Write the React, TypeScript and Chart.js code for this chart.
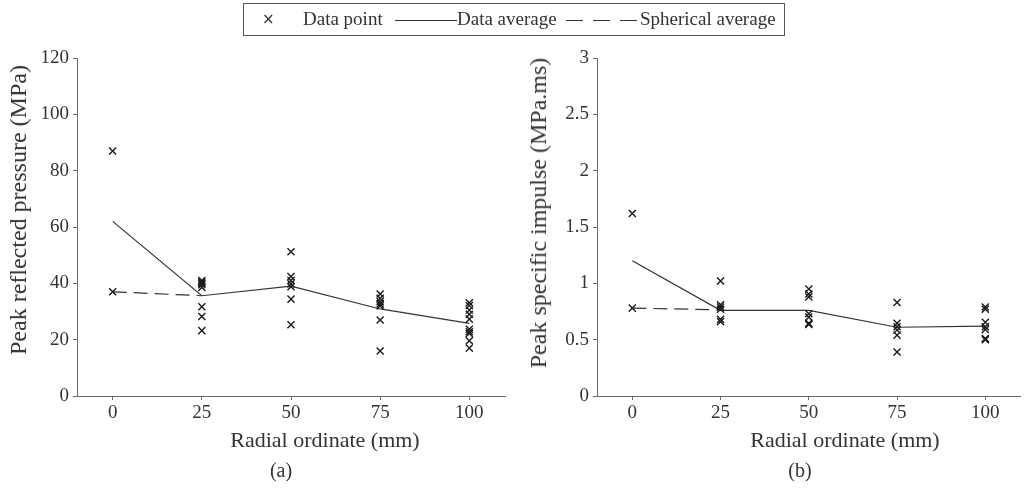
import React, { useEffect, useRef } from "react";
import { Chart, registerables } from "chart.js";
Chart.register(...registerables);

const radialTicks = [0, 25, 50, 75, 100];

// (a) Peak reflected pressure (MPa)
const pressureRadial = [0, 0, 25, 25, 25, 25, 25, 25, 25, 25, 50, 50, 50, 50, 50, 50, 50, 75, 75, 75, 75, 75, 75, 75, 100, 100, 100, 100, 100, 100, 100, 100, 100, 100];
const pressureValues = [87, 37, 41, 40.5, 40, 39.5, 38.5, 31.7, 28.2, 23.2, 51.2, 42.4, 41, 39.8, 38.8, 34.4, 25.3, 36.2, 34.7, 33.5, 32.7, 32, 27, 16, 33.1, 32.1, 30.5, 29, 27.3, 23.7, 22.8, 22.2, 19.6, 17];
const pressureAverage = [62, 35.6, 39, 30.9, 25.8];
const pressureSphericalRadial = [0, 25];
const pressureSpherical = [37, 35.6];
const pressureYTicks = [0, 20, 40, 60, 80, 100, 120];

// (b) Peak specific impulse (MPa.ms)
const impulseRadial = [0, 0, 25, 25, 25, 25, 25, 25, 50, 50, 50, 50, 50, 50, 50, 75, 75, 75, 75, 75, 75, 100, 100, 100, 100, 100, 100, 100];
const impulseValues = [1.62, 0.78, 1.02, 0.81, 0.79, 0.77, 0.68, 0.66, 0.95, 0.905, 0.88, 0.73, 0.7, 0.645, 0.635, 0.83, 0.645, 0.615, 0.585, 0.54, 0.39, 0.79, 0.77, 0.655, 0.615, 0.59, 0.51, 0.5];
const impulseAverage = [1.2, 0.76, 0.76, 0.61, 0.62];
const impulseSphericalRadial = [0, 25];
const impulseSpherical = [0.78, 0.765];
const impulseYTicks = [0, 0.5, 1, 1.5, 2, 2.5, 3];

const FONT = "'Liberation Serif', 'Times New Roman', serif";
const TEXT = "#333333";
const AXIS = "#6a6a6a";

function makeConfig(
  radial: number[], values: number[], avg: number[],
  sphR: number[], sph: number[], yTicks: number[], padRight: number
): any {
  return {
    type: "scatter",
    data: {
      datasets: [
        {
          label: "Data point",
          data: radial.map((r, i) => ({ x: r, y: values[i] })),
          pointStyle: "crossRot",
          pointRadius: 5,
          borderColor: "#1a1a1a",
          borderWidth: 1.4,
          showLine: false,
        },
        {
          label: "Data average",
          data: radialTicks.map((r, i) => ({ x: r, y: avg[i] })),
          showLine: true,
          pointRadius: 0,
          borderColor: "#333333",
          borderWidth: 1.2,
        },
        {
          label: "Spherical average",
          data: sphR.map((r, i) => ({ x: r, y: sph[i] })),
          showLine: true,
          pointRadius: 0,
          borderColor: "#333333",
          borderWidth: 1.2,
          borderDash: [14, 7],
        },
      ],
    },
    options: {
      animation: false,
      responsive: false,
      maintainAspectRatio: false,
      layout: { padding: { top: 58, right: padRight, left: 0, bottom: 0 } },
      plugins: { legend: { display: false }, tooltip: { enabled: false } },
      scales: {
        x: {
          type: "linear",
          min: -10,
          max: 110,
          afterBuildTicks: (s: any) => { s.ticks = radialTicks.map((v) => ({ value: v })); },
          afterFit: (s: any) => { s.height = 92; },
          grid: { display: true, drawOnChartArea: false, drawTicks: true, tickLength: 4, color: AXIS },
          border: { display: true, color: AXIS, width: 1 },
          ticks: { color: TEXT, font: { family: FONT, size: 19 }, padding: 2, maxRotation: 0, callback: (v: any) => String(v) },
          title: { display: false },
        },
        y: {
          type: "linear",
          min: yTicks[0],
          max: yTicks[yTicks.length - 1],
          afterBuildTicks: (s: any) => { s.ticks = yTicks.map((v) => ({ value: v })); },
          afterFit: (s: any) => { s.width = 77; },
          grid: { display: true, drawOnChartArea: false, drawTicks: true, tickLength: 4, color: AXIS },
          border: { display: true, color: AXIS, width: 1 },
          ticks: { color: TEXT, font: { family: FONT, size: 19 }, padding: 4, callback: (v: any) => String(v) },
          title: { display: false },
        },
      },
    },
  };
}

function ChartCanvas(props: { config: any; left: number; width: number }) {
  const ref = useRef<HTMLCanvasElement | null>(null);
  useEffect(() => {
    if (!ref.current) return;
    const c = new Chart(ref.current, props.config);
    return () => c.destroy();
  }, []);
  return (
    <canvas
      ref={ref}
      width={props.width}
      height={488}
      style={{ position: "absolute", left: props.left, top: 0, width: props.width, height: 488 }}
    />
  );
}

function Label(props: { text: string; cx: number; cy: number; size: number; rotate?: boolean }) {
  return (
    <div
      style={{
        position: "absolute", left: props.cx, top: props.cy,
        transform: `translate(-50%, -50%)${props.rotate ? " rotate(-90deg)" : ""}`,
        fontFamily: FONT, fontSize: props.size, color: TEXT, whiteSpace: "nowrap", lineHeight: 1,
      }}
    >
      {props.text}
    </div>
  );
}

export default function App() {
  const cfgA = makeConfig(pressureRadial, pressureValues, pressureAverage, pressureSphericalRadial, pressureSpherical, pressureYTicks, 10);
  const cfgB = makeConfig(impulseRadial, impulseValues, impulseAverage, impulseSphericalRadial, impulseSpherical, impulseYTicks, 2);
  const legendText: React.CSSProperties = { position: "absolute", top: 7, fontFamily: FONT, fontSize: 19, color: TEXT, lineHeight: "24px", whiteSpace: "nowrap" };
  const dash = (left: number): React.CSSProperties => ({ position: "absolute", left, top: 20, width: 17, borderTop: "1.2px solid #333" });
  return (
    <div style={{ position: "fixed", left: 0, top: 0, width: 1027, height: 488, background: "#fff", overflow: "hidden" }}>
      <ChartCanvas config={cfgA} left={0} width={515} />
      <ChartCanvas config={cfgB} left={520} width={507} />
      <Label text="Peak reflected pressure (MPa)" cx={18} cy={210} size={24} rotate />
      <Label text="Peak specific impulse (MPa.ms)" cx={538} cy={213} size={24} rotate />
      <Label text="Radial ordinate (mm)" cx={325} cy={440} size={22} />
      <Label text="Radial ordinate (mm)" cx={845} cy={440} size={22} />
      <Label text="(a)" cx={281} cy={470} size={20} />
      <Label text="(b)" cx={800} cy={470} size={20} />
      <div style={{ position: "absolute", left: 243, top: 3, width: 542, height: 33, border: "1px solid #555", boxSizing: "border-box" }} />
      <div style={{ ...legendText, left: 262, fontFamily: "'DejaVu Sans', sans-serif", fontSize: 15 }}>×</div>
      <div style={{ ...legendText, left: 303 }}>Data point</div>
      <div style={{ position: "absolute", left: 395, top: 20, width: 62, borderTop: "1.2px solid #333" }} />
      <div style={{ ...legendText, left: 457 }}>Data average</div>
      <div style={dash(566)} />
      <div style={dash(593)} />
      <div style={dash(620)} />
      <div style={{ ...legendText, left: 640 }}>Spherical average</div>
    </div>
  );
}
